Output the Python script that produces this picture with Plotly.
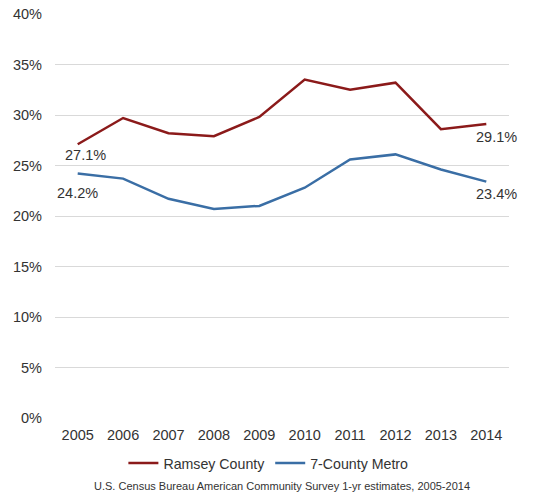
import plotly.graph_objects as go

years = ["2005", "2006", "2007", "2008", "2009", "2010", "2011", "2012", "2013", "2014"]
ramsey = [27.1, 29.7, 28.2, 27.9, 29.8, 33.5, 32.5, 33.2, 28.6, 29.1]
metro = [24.2, 23.7, 21.7, 20.7, 21.0, 22.8, 25.6, 26.1, 24.6, 23.4]
y_ticks = [0, 5, 10, 15, 20, 25, 30, 35, 40]
source_note = "U.S. Census Bureau American Community Survey 1-yr estimates, 2005-2014"

RED = "#8b1a1a"
BLUE = "#3a6ea5"
TEXT = "#333333"
FONT = "Liberation Sans, Arial, sans-serif"

fig = go.Figure()
fig.add_trace(go.Scatter(x=years, y=ramsey, mode="lines", name="Ramsey County",
                         line=dict(color=RED, width=2.5)))
fig.add_trace(go.Scatter(x=years, y=metro, mode="lines", name="7-County Metro",
                         line=dict(color=BLUE, width=2.5)))

# value labels at the first and last year of each series (x given as category index)
first, last = 0, len(years) - 1
end_labels = [
    (first, ramsey[first], 8, -11),
    (first, metro[first], 0, -19),
    (last, ramsey[last], 10, -13),
    (last, metro[last], 10, -12.5),
]
for x, y, dx, dy in end_labels:
    fig.add_annotation(x=x, y=y, text=f"{y:.1f}%", showarrow=False,
                       xshift=dx, yshift=dy, font=dict(size=14.5, color=TEXT, family=FONT))

fig.add_annotation(x=0.5, y=-0.168, xref="paper", yref="paper", text=source_note,
                   showarrow=False, xanchor="center", yanchor="middle",
                   font=dict(size=11, color=TEXT, family=FONT))

fig.update_layout(
    width=556, height=495,
    margin=dict(l=55, r=47, t=14, b=77, autoexpand=False),
    paper_bgcolor="white", plot_bgcolor="white",
    font=dict(family=FONT, size=14.5, color=TEXT),
    showlegend=True,
    legend=dict(orientation="h", x=0.47, xanchor="center", y=-0.112, yanchor="middle",
                font=dict(size=14.2, color=TEXT), itemwidth=30, tracegroupgap=0),
    xaxis=dict(type="category", range=[-0.5, len(years) - 0.5], showgrid=False,
               showline=False, zeroline=False, ticks="", ticklabelstandoff=6,
               tickfont=dict(size=14.5, color=TEXT)),
    yaxis=dict(range=[0, 40], tickvals=y_ticks, ticktext=[f"{v}%" for v in y_ticks],
               showgrid=True, gridcolor="#d9d9d9", gridwidth=1, zeroline=False,
               showline=False, ticks="", ticklabelstandoff=12,
               tickfont=dict(size=14.5, color=TEXT)),
)

fig.write_html("out.html")
